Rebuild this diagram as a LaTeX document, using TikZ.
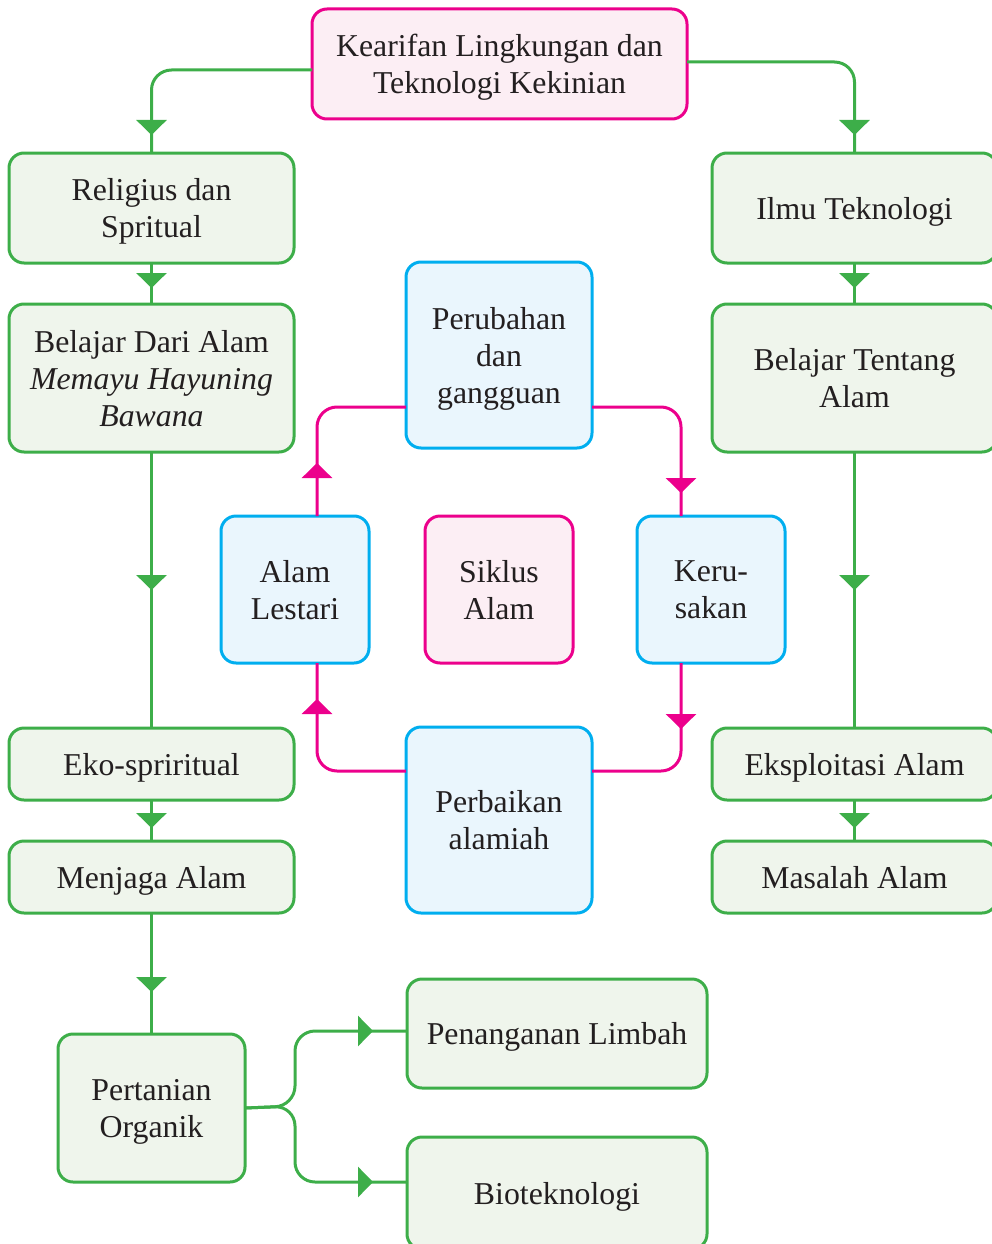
\documentclass[tikz,border=0pt]{standalone}
\usepackage{fontspec}
\setmainfont{Liberation Serif}
\usetikzlibrary{arrows.meta,decorations.markings}
\definecolor{grline}{HTML}{3DAE49}
\definecolor{grfill}{HTML}{EFF5EC}
\definecolor{pkline}{HTML}{EC008C}
\definecolor{pkfill}{HTML}{FCEEF4}
\definecolor{blline}{HTML}{00AEEF}
\definecolor{blfill}{HTML}{EAF6FD}
\definecolor{txt}{HTML}{231F20}
\tikzset{
  tri/.tip={Triangle[length=15pt,width=30pt]},
  box/.style={rectangle, rounded corners=15pt, line width=3pt, inner sep=0pt, outer sep=0pt,
    align=center, text=txt, text depth=0pt, font=\fontsize{31.8}{37}\selectfont},
  gbox/.style={box, draw=grline, fill=grfill},
  pbox/.style={box, draw=pkline, fill=pkfill},
  bbox/.style={box, draw=blline, fill=blfill},
  gline/.style={draw=grline, line width=3pt, rounded corners=20pt},
  pline/.style={draw=pkline, line width=3pt, rounded corners=20pt},
  arrowat/.style={postaction={decorate}, decoration={markings, mark=at position #1 with {\arrow{tri}}}}
}
\begin{document}
\begin{tikzpicture}[x=1pt,y=-1pt]
\useasboundingbox (0,0) rectangle (992,1244);

% nodes
\node[pbox, minimum width=375pt, minimum height=110pt] (top) at (499.5,64) {Kearifan Lingkungan dan\\Teknologi Kekinian};
\node[gbox, minimum width=285pt, minimum height=110pt] (rel) at (151.5,208) {Religius dan\\Spritual};
\node[gbox, minimum width=285pt, minimum height=110pt] (ilmu) at (854.5,208) {Ilmu Teknologi};
\node[gbox, minimum width=285pt, minimum height=148pt] (bda) at (151.5,378) {Belajar Dari Alam\\\textit{Memayu Hayuning}\\\textit{Bawana}};
\node[gbox, minimum width=285pt, minimum height=148pt] (bta) at (854.5,378) {Belajar Tentang\\Alam};
\node[bbox, minimum width=186pt, minimum height=186pt] (per) at (499,355) {Perubahan\\dan\\gangguan};
\node[bbox, minimum width=148pt, minimum height=147pt] (al) at (295,589.5) {Alam\\Lestari};
\node[pbox, minimum width=148pt, minimum height=147pt] (sik) at (499,589.5) {Siklus\\Alam};
\node[bbox, minimum width=148pt, minimum height=147pt] (ker) at (711,589.5) {Keru-\\sakan};
\node[bbox, minimum width=186pt, minimum height=186pt] (pba) at (499,820) {Perbaikan\\alamiah};
\node[gbox, minimum width=285pt, minimum height=72pt] (eko) at (151.5,764) {Eko-spriritual};
\node[gbox, minimum width=285pt, minimum height=72pt] (eks) at (854.5,764) {Eksploitasi Alam};
\node[gbox, minimum width=285pt, minimum height=72pt] (men) at (151.5,877) {Menjaga Alam};
\node[gbox, minimum width=285pt, minimum height=72pt] (mas) at (854.5,877) {Masalah Alam};
\node[gbox, minimum width=187pt, minimum height=148pt] (pto) at (151.5,1108) {Pertanian\\Organik};
\node[gbox, minimum width=300pt, minimum height=109pt] (pl) at (557,1033.5) {Penanganan Limbah};
\node[gbox, minimum width=300pt, minimum height=112pt] (bio) at (557,1193) {Bioteknologi};

% green connectors
\draw[gline, arrowat=-18pt] ([yshift=-6pt]top.west) -| (rel.north);
\draw[gline, arrowat=-18pt] ([yshift=2pt]top.east) -| (ilmu.north);
\draw[gline, arrowat=-16pt] (rel.south) -- (bda.north);
\draw[gline, arrowat=-16pt] (ilmu.south) -- (bta.north);
\draw[gline, arrowat=0.5] (bda.south) -- (eko.north);
\draw[gline, arrowat=0.5] (bta.south) -- (eks.north);
\draw[gline, arrowat=-13pt] (eko.south) -- (men.north);
\draw[gline, arrowat=-13pt] (eks.south) -- (mas.north);
\draw[gline, arrowat=-42pt] (men.south) -- (pto.north);
\coordinate (j) at (295,1106);
\draw[gline, arrowat=-34pt] (pto.east) -- (j) |- ([yshift=2.5pt]pl.west);
\draw[gline, arrowat=-34pt] (pto.east) -- (j) |- ([yshift=11pt]bio.west);

% pink cycle
\draw[pline, arrowat=53pt] ([xshift=22pt]al.north) |- ([yshift=-52pt]per.west);
\draw[pline, arrowat=-23pt] ([yshift=-52pt]per.east) -| ([xshift=-30pt]ker.north);
\draw[pline, arrowat=66pt] ([xshift=-30pt]ker.south) |- ([yshift=49pt]pba.east);
\draw[pline, arrowat=-36pt] ([yshift=49pt]pba.west) -| ([xshift=22pt]al.south);
\end{tikzpicture}
\end{document}
